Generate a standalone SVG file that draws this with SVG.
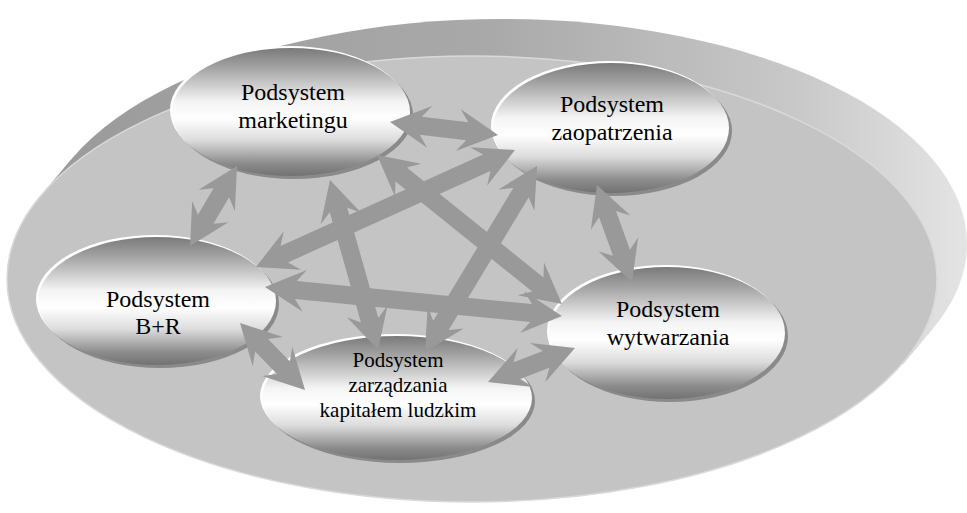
<svg xmlns="http://www.w3.org/2000/svg" width="967" height="513" viewBox="0 0 967 513">
<defs>
<linearGradient id="wallG" gradientUnits="userSpaceOnUse" x1="100" y1="0" x2="967" y2="0">
<stop offset="0" stop-color="#9c9c9c"/>
<stop offset="0.45" stop-color="#a9a9a9"/>
<stop offset="0.8" stop-color="#c8c8c8"/>
<stop offset="1" stop-color="#e4e4e4"/>
</linearGradient>
<linearGradient id="nodeG" x1="0" y1="0" x2="0" y2="1">
<stop offset="0" stop-color="#7a7a7a"/>
<stop offset="0.15" stop-color="#a2a2a2"/>
<stop offset="0.42" stop-color="#f4f4f4"/>
<stop offset="0.55" stop-color="#ffffff"/>
<stop offset="0.72" stop-color="#dcdcdc"/>
<stop offset="0.9" stop-color="#8c8c8c"/>
<stop offset="1" stop-color="#727272"/>
</linearGradient>
<style>
.shadow{fill:#8a8a8a}
.rim{fill:#ffffff}
.body{fill:url(#nodeG)}
.t{font-family:'Liberation Serif','DejaVu Serif',serif;font-size:24px;fill:#000000;text-anchor:middle}
.ts{font-size:21px}
.arr{fill:#999999}
</style>
</defs>
<g id="platform">
<ellipse cx="502" cy="244" rx="465" ry="225" fill="url(#wallG)"/>
<polygon points="40.8,195.8 70.8,159.8 933.2,328.2 903.2,364.2" fill="url(#wallG)"/>
<ellipse cx="472" cy="279" rx="465" ry="223" fill="#c4c4c4" stroke="#d9d9d9" stroke-width="1.5"/>
</g>
<g id="node-marketing">
<ellipse class="shadow" cx="294" cy="115" rx="119" ry="64"/>
<ellipse class="rim" cx="289" cy="110" rx="119" ry="64"/>
<ellipse class="body" cx="291" cy="112" rx="119" ry="64"/>
<text class="t" font-family="Liberation Serif, DejaVu Serif, serif" x="293" y="100">Podsystem</text>
<text class="t" font-family="Liberation Serif, DejaVu Serif, serif" x="293" y="128">marketingu</text>
</g>
<g id="node-zaopatrzenia">
<ellipse class="shadow" cx="614" cy="131" rx="118" ry="65"/>
<ellipse class="rim" cx="609" cy="126" rx="118" ry="65"/>
<ellipse class="body" cx="611" cy="128" rx="118" ry="65"/>
<text class="t" font-family="Liberation Serif, DejaVu Serif, serif" x="612" y="112">Podsystem</text>
<text class="t" font-family="Liberation Serif, DejaVu Serif, serif" x="612" y="140">zaopatrzenia</text>
</g>
<g id="node-br">
<ellipse class="shadow" cx="160" cy="304" rx="119" ry="64"/>
<ellipse class="rim" cx="155" cy="299" rx="119" ry="64"/>
<ellipse class="body" cx="157" cy="301" rx="119" ry="64"/>
<text class="t" font-family="Liberation Serif, DejaVu Serif, serif" x="158" y="307">Podsystem</text>
<text class="t" font-family="Liberation Serif, DejaVu Serif, serif" x="158" y="334">B+R</text>
</g>
<g id="node-wytwarzania">
<ellipse class="shadow" cx="670" cy="336" rx="118" ry="66"/>
<ellipse class="rim" cx="665" cy="331" rx="118" ry="66"/>
<ellipse class="body" cx="667" cy="333" rx="118" ry="66"/>
<text class="t" font-family="Liberation Serif, DejaVu Serif, serif" x="668" y="317">Podsystem</text>
<text class="t" font-family="Liberation Serif, DejaVu Serif, serif" x="668" y="345">wytwarzania</text>
</g>
<g id="node-kapital">
<ellipse class="shadow" cx="400" cy="401" rx="135" ry="62"/>
<ellipse class="rim" cx="395" cy="396" rx="135" ry="62"/>
<ellipse class="body" cx="397" cy="398" rx="135" ry="62"/>
<text class="t ts" font-family="Liberation Serif, DejaVu Serif, serif" x="398" y="367">Podsystem</text>
<text class="t ts" font-family="Liberation Serif, DejaVu Serif, serif" x="398" y="392">zarządzania</text>
<text class="t ts" font-family="Liberation Serif, DejaVu Serif, serif" x="398" y="417">kapitałem ludzkim</text>
</g>
<g id="connectors">
<path class="arr" transform="translate(390,122) rotate(6.86)" d="M0,0 L40,-21 L31,-9 L77.8,-9 L68.8,-21 L108.8,0 L68.8,21 L77.8,9 L31,9 L40,21 Z"/>
<path class="arr" transform="translate(237,166) rotate(120.4)" d="M0,0 L40,-21 L31,-9 L61.8,-9 L52.8,-21 L92.8,0 L52.8,21 L61.8,9 L31,9 L40,21 Z"/>
<path class="arr" transform="translate(330,180) rotate(74.2)" d="M0,0 L40,-21 L31,-9 L145.6,-9 L136.6,-21 L176.6,0 L136.6,21 L145.6,9 L31,9 L40,21 Z"/>
<path class="arr" transform="translate(377,155) rotate(38.85)" d="M0,0 L40,-21 L31,-9 L206.5,-9 L197.5,-21 L237.5,0 L197.5,21 L206.5,9 L31,9 L40,21 Z"/>
<path class="arr" transform="translate(515,150) rotate(155.7)" d="M0,0 L40,-21 L31,-9 L253.2,-9 L244.2,-21 L284.2,0 L244.2,21 L253.2,9 L31,9 L40,21 Z"/>
<path class="arr" transform="translate(537,166) rotate(121.06)" d="M0,0 L40,-21 L31,-9 L186.1,-9 L177.1,-21 L217.1,0 L177.1,21 L186.1,9 L31,9 L40,21 Z"/>
<path class="arr" transform="translate(597,185) rotate(70.16)" d="M0,0 L40,-21 L31,-9 L72.1,-9 L63.1,-21 L103.1,0 L63.1,21 L72.1,9 L31,9 L40,21 Z"/>
<path class="arr" transform="translate(265,287) rotate(5.58)" d="M0,0 L40,-21 L31,-9 L267.4,-9 L258.4,-21 L298.4,0 L258.4,21 L267.4,9 L31,9 L40,21 Z"/>
<path class="arr" transform="translate(240,323) rotate(45.87)" d="M0,0 L40,-21 L31,-9 L62.4,-9 L53.4,-21 L93.4,0 L53.4,21 L62.4,9 L31,9 L40,21 Z"/>
<path class="arr" transform="translate(488,382) rotate(-21.35)" d="M0,0 L40,-21 L31,-9 L62.4,-9 L53.4,-21 L93.4,0 L53.4,21 L62.4,9 L31,9 L40,21 Z"/>
</g>
</svg>
